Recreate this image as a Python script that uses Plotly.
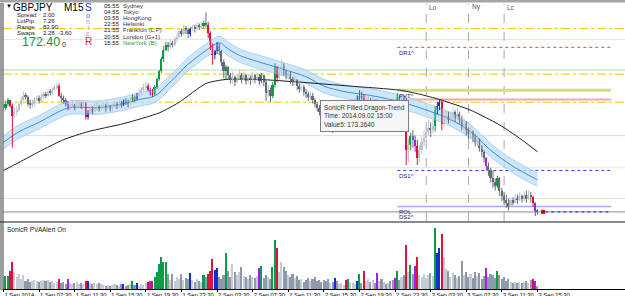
import plotly.graph_objects as go

# ---------------- data ----------------
x_labels = ["1 Sep 2014", "1 Sep 07:30", "1 Sep 11:30", "1 Sep 15:30", "1 Sep 19:30",
            "1 Sep 23:30", "2 Sep 03:30", "2 Sep 07:30", "2 Sep 11:30", "2 Sep 15:30",
            "2 Sep 19:30", "2 Sep 23:30", "3 Sep 03:30", "3 Sep 07:30", "3 Sep 11:30",
            "3 Sep 15:30"]
label_bars = [0, 16, 32, 48, 64, 80, 96, 112, 128, 144, 160, 176, 192, 208, 224, 240]

first_open = 173.16
closes = [
    173.18, 173.21, 173.24, 173.19, 173.12, 173.15, 173.16, 173.21, 173.24, 173.27,
    173.26, 173.21, 173.20, 173.21, 173.24, 173.25, 173.23, 173.26, 173.28, 173.27,
    173.30, 173.29, 173.31, 173.33, 173.34, 173.27, 173.25, 173.24, 173.21, 173.18,
    173.19, 173.21, 173.18, 173.20, 173.21, 173.19, 173.21, 173.11, 173.14, 173.17,
    173.15, 173.18, 173.19, 173.17, 173.18, 173.20, 173.18, 173.19, 173.17, 173.18,
    173.21, 173.19, 173.21, 173.20, 173.23, 173.22, 173.21, 173.24, 173.26, 173.24,
    173.27, 173.29, 173.31, 173.33, 173.34, 173.31, 173.29, 173.28, 173.33, 173.39,
    173.45, 173.54, 173.61, 173.65, 173.63, 173.66, 173.65, 173.69, 173.71, 173.75,
    173.73, 173.77, 173.76, 173.73, 173.77, 173.78, 173.77, 173.80, 173.78, 173.79,
    173.81, 173.80, 173.74, 173.65, 173.57, 173.60, 173.64, 173.60, 173.52, 173.45,
    173.48, 173.42, 173.39, 173.41, 173.37, 173.40, 173.42, 173.39, 173.42, 173.38,
    173.40, 173.39, 173.42, 173.39, 173.41, 173.38, 173.42, 173.37, 173.29, 173.31,
    173.27, 173.35, 173.48, 173.40, 173.45, 173.49, 173.45, 173.42, 173.43, 173.39,
    173.37, 173.39, 173.34, 173.32, 173.33, 173.30, 173.28, 173.26, 173.27, 173.24,
    173.21, 173.18, 173.15, 173.11, 173.09, 173.06, 173.04, 173.06, 173.03, 173.06,
    173.05, 173.08, 173.10, 173.13, 173.10, 173.16, 173.19, 173.21, 173.22, 173.24,
    173.27, 173.25, 173.21, 173.23, 173.24, 173.21, 173.24, 173.21, 173.18, 173.20,
    173.18, 173.21, 173.19, 173.22, 173.20, 173.18, 173.22, 173.26, 173.24, 173.25,
    173.23, 172.86, 172.90, 172.97, 172.94, 172.89, 172.80, 172.86, 172.92, 172.95,
    173.00, 173.03, 173.01, 173.04, 173.16, 173.19, 173.22, 173.06, 173.10, 173.12,
    173.09, 173.12, 173.15, 173.10, 173.13, 173.09, 173.04, 173.06, 173.01, 172.98,
    173.00, 172.96, 172.92, 172.94, 172.88, 172.85, 172.80, 172.74, 172.71, 172.65,
    172.62, 172.59, 172.65, 172.56, 172.52, 172.49, 172.47, 172.44, 172.49, 172.47,
    172.50, 172.49, 172.52, 172.50, 172.53, 172.50, 172.53, 172.51, 172.47, 172.41,
    172.40]
highs = [
    173.21, 173.23, 173.25, 173.24, 173.21, 173.18, 173.19, 173.22, 173.26, 173.30,
    173.29, 173.27, 173.24, 173.24, 173.26, 173.27, 173.27, 173.29, 173.30, 173.30,
    173.32, 173.32, 173.33, 173.35, 173.36, 173.36, 173.29, 173.27, 173.25, 173.23,
    173.21, 173.23, 173.21, 173.23, 173.24, 173.22, 173.23, 173.22, 173.16, 173.19,
    173.19, 173.21, 173.22, 173.20, 173.21, 173.22, 173.21, 173.22, 173.20, 173.21,
    173.23, 173.22, 173.24, 173.23, 173.24, 173.25, 173.24, 173.26, 173.28, 173.27,
    173.29, 173.32, 173.33, 173.36, 173.37, 173.36, 173.33, 173.32, 173.35, 173.40,
    173.46, 173.56, 173.64, 173.67, 173.67, 173.69, 173.68, 173.71, 173.74, 173.77,
    173.77, 173.80, 173.79, 173.77, 173.78, 173.80, 173.80, 173.82, 173.81, 173.82,
    173.83, 173.89, 173.82, 173.75, 173.66, 173.61, 173.67, 173.66, 173.61, 173.54,
    173.50, 173.49, 173.44, 173.45, 173.42, 173.43, 173.46, 173.44, 173.45, 173.43,
    173.43, 173.42, 173.45, 173.43, 173.44, 173.43, 173.44, 173.42, 173.39, 173.35,
    173.33, 173.37, 173.51, 173.49, 173.48, 173.54, 173.51, 173.46, 173.46, 173.45,
    173.41, 173.42, 173.39, 173.36, 173.36, 173.35, 173.32, 173.30, 173.30, 173.29,
    173.25, 173.22, 173.20, 173.16, 173.12, 173.11, 173.09, 173.09, 173.07, 173.08,
    173.09, 173.11, 173.13, 173.16, 173.18, 173.19, 173.22, 173.24, 173.25, 173.27,
    173.31, 173.30, 173.28, 173.27, 173.27, 173.25, 173.26, 173.24, 173.24, 173.23,
    173.22, 173.24, 173.23, 173.25, 173.24, 173.22, 173.24, 173.29, 173.27, 173.28,
    173.27, 173.25, 172.95, 172.99, 173.01, 172.97, 172.94, 172.90, 172.96, 173.01,
    173.05, 173.09, 173.07, 173.09, 173.19, 173.22, 173.24, 173.24, 173.15, 173.16,
    173.15, 173.15, 173.18, 173.16, 173.18, 173.15, 173.12, 173.10, 173.08, 173.03,
    173.04, 173.01, 172.98, 172.97, 172.95, 172.90, 172.86, 172.81, 172.77, 172.73,
    172.71, 172.65, 172.67, 172.66, 172.58, 172.55, 172.53, 172.50, 172.51, 172.51,
    172.53, 172.53, 172.55, 172.53, 172.55, 172.56, 172.56, 172.55, 172.52, 172.47,
    172.42]
lows = [
    173.15, 173.16, 173.19, 173.18, 172.88, 173.10, 173.12, 173.15, 173.19, 173.23,
    173.24, 173.19, 173.17, 173.18, 173.19, 173.21, 173.21, 173.22, 173.24, 173.25,
    173.26, 173.27, 173.27, 173.30, 173.31, 173.26, 173.22, 173.21, 173.19, 173.16,
    173.16, 173.18, 173.16, 173.18, 173.18, 173.17, 173.18, 173.09, 173.09, 173.13,
    173.13, 173.15, 173.16, 173.15, 173.16, 173.17, 173.15, 173.17, 173.15, 173.15,
    173.18, 173.17, 173.18, 173.18, 173.19, 173.20, 173.18, 173.20, 173.22, 173.22,
    173.24, 173.26, 173.27, 173.30, 173.31, 173.30, 173.27, 173.26, 173.27, 173.32,
    173.38, 173.44, 173.52, 173.60, 173.60, 173.62, 173.63, 173.64, 173.67, 173.70,
    173.71, 173.72, 173.73, 173.70, 173.71, 173.75, 173.74, 173.76, 173.76, 173.77,
    173.77, 173.78, 173.70, 173.61, 173.50, 173.54, 173.58, 173.57, 173.49, 173.40,
    173.39, 173.39, 173.36, 173.36, 173.34, 173.36, 173.39, 173.36, 173.38, 173.35,
    173.36, 173.35, 173.37, 173.36, 173.38, 173.35, 173.36, 173.34, 173.23, 173.26,
    173.22, 173.25, 173.33, 173.37, 173.39, 173.43, 173.42, 173.39, 173.39, 173.36,
    173.34, 173.35, 173.31, 173.29, 173.30, 173.27, 173.25, 173.23, 173.24, 173.21,
    173.18, 173.15, 173.12, 173.08, 173.05, 173.03, 173.00, 173.01, 172.99, 173.00,
    173.02, 173.03, 173.06, 173.09, 173.08, 173.09, 173.15, 173.17, 173.19, 173.20,
    173.21, 173.22, 173.20, 173.20, 173.21, 173.19, 173.20, 173.18, 173.15, 173.16,
    173.15, 173.18, 173.16, 173.18, 173.17, 173.15, 173.16, 173.21, 173.21, 173.21,
    173.19, 172.75, 172.77, 172.86, 172.88, 172.85, 172.75, 172.77, 172.83, 172.89,
    172.94, 172.97, 172.96, 172.99, 173.00, 173.13, 173.16, 173.01, 173.04, 173.07,
    173.06, 173.07, 173.09, 173.07, 173.09, 173.06, 173.01, 173.01, 172.97, 172.94,
    172.95, 172.92, 172.89, 172.89, 172.85, 172.81, 172.77, 172.71, 172.67, 172.62,
    172.58, 172.56, 172.58, 172.52, 172.48, 172.45, 172.43, 172.41, 172.44, 172.45,
    172.47, 172.46, 172.48, 172.47, 172.48, 172.47, 172.49, 172.47, 172.44, 172.37,
    172.38]
volumes = [
    100, 130, 130, 180, 270, 170, 120, 150, 100, 140,
    80, 100, 70, 80, 90, 80, 70, 80, 90, 80,
    90, 70, 80, 60, 70, 100, 60, 70, 50, 100,
    60, 50, 60, 70, 50, 60, 50, 80, 80, 60,
    50, 60, 50, 60, 50, 40, 30, 40, 30, 40,
    50, 40, 30, 50, 50, 30, 40, 50, 80, 40,
    60, 30, 50, 40, 60, 70, 80, 80, 120, 170,
    250, 330, 270, 270, 150, 90, 150, 80, 120, 100,
    150, 90, 110, 100, 160, 90, 70, 100, 80, 70,
    140, 120, 150, 180, 300, 190, 210, 120, 100, 140,
    370, 180, 120, 250, 170, 140, 170, 220, 130, 120,
    100, 140, 120, 110, 130, 210, 230, 110, 140, 120,
    100, 220, 500, 420, 170, 270, 220, 180, 140, 120,
    150, 110, 130, 90, 100, 70, 90, 110, 80, 100,
    120, 80, 90, 70, 90, 80, 100, 60, 70, 110,
    80, 50, 60, 40, 90, 100, 70, 60, 50, 80,
    150, 60, 180, 80, 100, 70, 90, 60, 160, 80,
    100, 70, 50, 60, 80, 90, 110, 180, 90, 120,
    140, 450, 170, 240, 150, 230, 330, 140, 120, 150,
    110, 140, 160, 130, 620, 370, 420, 560, 320, 200,
    180, 120, 160, 140, 110, 130, 280, 140, 170, 120,
    150, 110, 170, 130, 160, 100, 130, 210, 120, 150,
    140, 110, 180, 140, 100, 120, 80, 100, 70, 60,
    70, 60, 70, 60, 70, 80, 60, 90, 100, 80,
    30]
# PVA classification of special bars: g=climax bull, r=climax bear, b=rising bull, p=rising bear
pva_class = {1: 'g', 2: 'g', 3: 'r', 4: 'r', 25: 'r', 29: 'p', 37: 'r', 38: 'b', 54: 'b',
             58: 'g', 60: 'b', 65: 'r', 66: 'p', 67: 'r', 68: 'g', 69: 'g', 70: 'g', 71: 'g',
             72: 'g', 73: 'g', 84: 'b', 90: 'g', 92: 'r', 93: 'r', 94: 'r', 95: 'b', 96: 'b',
             100: 'g', 115: 'p', 116: 'g', 121: 'g', 122: 'g', 123: 'r', 149: 'b', 154: 'r',
             155: 'g', 159: 'b', 160: 'g', 162: 'r', 168: 'p', 176: 'p', 177: 'g', 181: 'r',
             183: 'g', 185: 'p', 186: 'r', 194: 'g', 195: 'b', 196: 'b', 197: 'r', 217: 'p',
             222: 'g', 238: 'r', 239: 'p'}

trend_bars = [0, 7, 16, 27, 38, 54, 70, 79, 91, 100, 115, 133, 156, 178, 187, 196, 210, 223, 232, 240]
trend_vals = [172.71, 172.77, 172.85, 172.94, 173.00, 173.06, 173.14, 173.22, 173.36, 173.39,
              173.39, 173.37, 173.34, 173.31, 173.28, 173.24, 173.16, 173.05, 172.95, 172.85]

dragon_bars = [0, 7, 16, 25, 30, 43, 54, 61, 67, 70, 73, 78, 82, 88, 93, 96, 98, 100, 106,
               117, 127, 136, 144, 153, 165, 174, 183, 192, 201, 210, 219, 229, 240]
dragon_mid = [172.92, 173.00, 173.07, 173.15, 173.18, 173.18, 173.21, 173.24, 173.26, 173.29,
              173.34, 173.42, 173.49, 173.57, 173.63, 173.66, 173.66, 173.63, 173.57, 173.51,
              173.46, 173.41, 173.34, 173.30, 173.27, 173.24, 173.20, 173.15, 173.09, 173.00,
              172.86, 172.74, 172.64]
dragon_high = [172.97, 173.05, 173.12, 173.20, 173.23, 173.23, 173.26, 173.29, 173.31, 173.34,
               173.39, 173.47, 173.54, 173.62, 173.68, 173.71, 173.71, 173.68, 173.62, 173.56,
               173.51, 173.46, 173.39, 173.35, 173.32, 173.29, 173.25, 173.20, 173.14, 173.05,
               172.91, 172.79, 172.69]
dragon_low = [172.87, 172.95, 173.02, 173.10, 173.13, 173.13, 173.16, 173.19, 173.21, 173.24,
              173.29, 173.37, 173.44, 173.52, 173.58, 173.61, 173.61, 173.58, 173.52, 173.46,
              173.41, 173.36, 173.29, 173.25, 173.22, 173.19, 173.15, 173.10, 173.04, 172.95,
              172.81, 172.69, 172.59]

yellow_levels = [173.77, 173.43, 173.22]
faint_levels = [173.69, 173.46, 172.97, 172.73, 172.50]
pivot_names = ["DR1^", "PVT^", "", "DS1^", "ROL", "DS2^"]
pivot_levels = [173.63, 173.31, 173.24, 172.71, 172.44, 172.40]
pivot_start_bar, pivot_end_bar = 177, 273
bid_price = 172.40
bid_bar = 242.5

session_names = ["Lo", "Ny", "Lc"]
session_bars = [190, 209, 225]

info_names = ["Spread", "LotPip", "Range", "Swaps"]
info_values = ["2.00", "7.26", "83.90", "2.28, -3.60"]
city_times = ["05:55", "04:55", "03:55", "22:55", "21:55", "20:55", "15:55"]
city_names = ["Sydney", "Tokyo", "HongKong", "Helsinki", "Frankfurt (L,P)", "London (G+1)", "NewYork (B)"]

# ---------------- geometry helpers ----------------
W, H = 625, 296
ML, MR, MT, MB = 3, 0, 4, 7
PW, PH = W - ML - MR, H - MT - MB


def px(x):
    return (x - ML) / PW


def py(y):
    return (H - MB - y) / PH


MAIN_DOM = [py(221), 1.0]
VOL_DOM = [0.0, py(224)]

COL = {'g': '#0B9B4A', 'r': '#DC143C', 'b': '#1030D0', 'p': '#A020F0'}
BULL_GRAY, BEAR_GRAY = '#BCC2CB', '#646C7B'
VOL_BULL, VOL_BEAR = '#C6CCD4', '#8E9AAB'

n = len(closes)
bars = list(range(n))
opens = [first_open] + closes[:-1]

body_col, vol_col = [], []
for i in bars:
    up = closes[i] >= opens[i]
    c = pva_class.get(i)
    if c:
        body_col.append(COL[c])
        vol_col.append(COL[c])
    else:
        body_col.append(BULL_GRAY if up else BEAR_GRAY)
        vol_col.append(VOL_BULL if up else VOL_BEAR)

fig = go.Figure()

# Dragon band
fig.add_trace(go.Scatter(x=dragon_bars, y=dragon_low, mode='lines',
                         line=dict(color='rgba(165,205,242,0.9)', width=1, shape='spline', smoothing=0.8),
                         hoverinfo='skip'))
fig.add_trace(go.Scatter(x=dragon_bars, y=dragon_high, mode='lines', fill='tonexty',
                         fillcolor='rgba(190,222,248,0.75)',
                         line=dict(color='rgba(165,205,242,0.9)', width=1, shape='spline', smoothing=0.8),
                         hoverinfo='skip'))
fig.add_trace(go.Scatter(x=dragon_bars, y=dragon_mid, mode='lines',
                         line=dict(color='#3A8DE0', width=1, shape='spline', smoothing=0.8),
                         hoverinfo='skip'))
# Trend line
fig.add_trace(go.Scatter(x=trend_bars, y=trend_vals, mode='lines',
                         line=dict(color='#1E1E1E', width=1, shape='spline', smoothing=0.6),
                         hoverinfo='skip'))

# Wicks grouped by colour
groups = {}
for i in bars:
    c = body_col[i]
    lo = min(lows[i], opens[i], closes[i])
    hi = max(highs[i], opens[i], closes[i])
    gx, gy = groups.setdefault(c, ([], []))
    gx += [i, i, None]
    gy += [lo, hi, None]
for c, (gx, gy) in groups.items():
    fig.add_trace(go.Scatter(x=gx, y=gy, mode='lines', line=dict(color=c, width=1),
                             hoverinfo='skip', connectgaps=False))

# Bodies
fig.add_trace(go.Bar(x=bars, y=[max(abs(closes[i] - opens[i]), 0.004) for i in bars],
                     base=[min(opens[i], closes[i]) for i in bars], width=0.72,
                     marker=dict(color=body_col, line=dict(width=0)), hoverinfo='skip'))

# Volume
fig.add_trace(go.Bar(x=bars, y=volumes, yaxis='y2', width=0.7,
                     marker=dict(color=vol_col, line=dict(width=0)), hoverinfo='skip'))

# Bid marker
fig.add_trace(go.Scatter(x=[bid_bar], y=[bid_price], mode='markers',
                         marker=dict(symbol='square', size=4, color='#E00000'), hoverinfo='skip'))

shapes = []
for v in faint_levels:
    col = {173.69: '#E6E1D4', 173.46: '#D6F0D6', 172.97: '#DADAF6'}.get(v, '#D4EED4')
    shapes.append(dict(type='line', xref='paper', x0=0, x1=1, yref='y', y0=v, y1=v,
                       line=dict(color=col, width=2 if v == 173.46 else 1), layer='below'))
for v in yellow_levels:
    shapes.append(dict(type='line', xref='paper', x0=0, x1=1, yref='y', y0=v, y1=v,
                       line=dict(color='#F2C500', width=1, dash='dashdot'), layer='below'))
pivot_styles = [dict(color='#E04848', width=1, dash='dot'),
                dict(color='#D8D88A', width=3),
                dict(color='#F2A8A0', width=2),
                dict(color='#3A3AE0', width=1, dash='dot'),
                dict(color='#A8A8F0', width=1.5),
                dict(color='#8C8C8C', width=1)]
for name, v, st in zip(pivot_names, pivot_levels, pivot_styles):
    if name == "DS2^":
        shapes.append(dict(type='line', xref='paper', x0=0, x1=1, yref='y', y0=v, y1=v,
                           line=st, layer='below'))
    else:
        shapes.append(dict(type='line', xref='x', x0=pivot_start_bar, x1=pivot_end_bar, yref='y',
                           y0=v, y1=v, line=st, layer='below'))
shapes.append(dict(type='line', xref='x', x0=bid_bar + 1, x1=pivot_end_bar, yref='y',
                   y0=bid_price, y1=bid_price, line=dict(color='#2424E0', width=1, dash='dot')))
for b in session_bars:
    shapes.append(dict(type='line', xref='x', x0=b, x1=b, yref='y domain', y0=0, y1=1,
                       line=dict(color='#A8A8A8', width=1, dash='dash'), layer='below'))
# frame
shapes.append(dict(type='rect', xref='paper', yref='paper', x0=px(0), x1=px(W), y0=py(2.5), y1=py(0),
                   fillcolor='#A6A6A6', line=dict(width=0)))
shapes.append(dict(type='line', xref='paper', yref='paper', x0=px(0), x1=px(W), y0=py(222), y1=py(222),
                   line=dict(color='#8A8A8A', width=2)))
for xx in (1, 3):
    shapes.append(dict(type='line', xref='paper', yref='paper', x0=px(xx), x1=px(xx), y0=py(290), y1=py(3),
                       line=dict(color='#3A3A3A', width=1)))

ann = []


def txt(s, x, y, size=6, color='#222222', xa='left', ya='middle', **kw):
    d = dict(text=s, x=px(x), y=py(y), xref='paper', yref='paper', xanchor=xa, yanchor=ya,
             showarrow=False, font=dict(size=size, color=color))
    d.update(kw)
    return d


ann.append(txt("▼", 4, 6, size=6, color='#000000'))
ann.append(txt("GBPJPY", 11, 7, size=10, color='#000000'))
ann.append(txt("M15", 62, 7, size=10, color='#000000'))
for k, (nm, vv) in enumerate(zip(info_names, info_values)):
    yy = 15 + 6 * k
    ann.append(txt(nm, 15, yy))
    ann.append(txt(vv, 41, yy))
ann.append(txt("172.40", 20, 42.5, size=12.5, color='#15924A'))
ann.append(txt("0", 60, 44.5, size=7))
for ch, yy, sz, cc in [("S", 7, 10, '#2B2BDB'), ("o", 15.5, 7, '#4B4BE8'), ("n", 21.5, 6.5, '#8F86D2'),
                       ("i", 27, 6.5, '#C488B8'), ("c", 33, 6.5, '#E07090'), ("R", 42, 10, '#E0203A')]:
    ann.append(txt(ch, 88, yy, size=sz, color=cc, xa='center'))
for k, (tm, nm) in enumerate(zip(city_times, city_names)):
    yy = 6 + 6.1 * k
    col = '#1FA040' if nm.startswith("NewYork") else '#333333'
    ann.append(txt(tm, 102, yy))
    ann.append(txt(nm, 121, yy, color=col))
for nm, b in zip(session_names, session_bars):
    ann.append(dict(text=nm, x=b, xref='x', y=py(7), yref='paper', xanchor='left', yanchor='middle',
                    xshift=1, showarrow=False, font=dict(size=6.5, color='#50507A')))
for nm, v in zip(pivot_names, pivot_levels):
    if nm:
        ann.append(dict(text=nm, x=pivot_start_bar, xref='x', y=v, yref='y', xanchor='left',
                        yanchor='top', yshift=-0.5, showarrow=False,
                        font=dict(size=6, color='#1C1C70')))
ann.append(txt("SonicR PVA", 5, 229, size=6.5))
ann.append(txt("Alert On", 40, 229, size=6.5))
ann.append(txt("SonicR Filled Dragon-Trend<br>Time: 2014.09.02 15:00<br>Value5: 173.3640",
               320, 100, size=6.5, color='#333333', ya='top', align='left',
               bgcolor='#F6F6F6', bordercolor='#7F7F7F', borderwidth=1, borderpad=3))

fig.update_layout(
    width=W, height=H, margin=dict(l=ML, r=MR, t=MT, b=MB, autoexpand=False),
    paper_bgcolor='white', plot_bgcolor='white', showlegend=False,
    font=dict(family='Liberation Sans, Arial, sans-serif', size=7, color='#000000'),
    bargap=0, hovermode=False,
    xaxis=dict(range=[-0.22, 279.33], tickvals=label_bars, ticktext=x_labels,
               ticklabelposition='outside right', ticks='outside', ticklen=2, tickcolor='#000',
               tickangle=0, automargin=False,
               tickfont=dict(size=5.8, color='#000'), showgrid=False, zeroline=False,
               showline=True, linecolor='#000', linewidth=1, anchor='y2'),
    yaxis=dict(domain=MAIN_DOM, range=[172.332, 173.954], visible=False, showgrid=False),
    yaxis2=dict(domain=VOL_DOM, range=[0, 660], visible=False, showgrid=False),
    shapes=shapes, annotations=ann,
)

fig.write_html("out.html")
